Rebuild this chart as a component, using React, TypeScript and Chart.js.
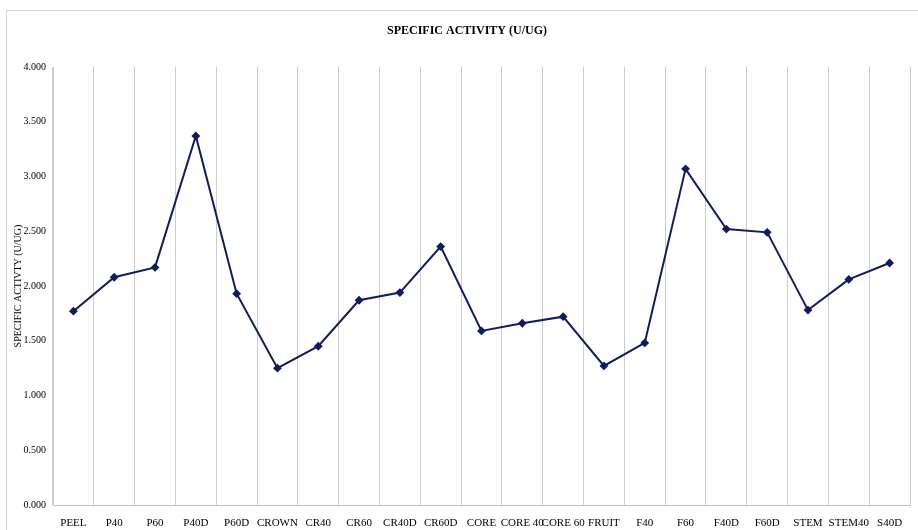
import React, { useEffect, useRef } from "react";
import { Chart, registerables } from "chart.js";

Chart.register(...registerables);

const categories: string[] = [
  "PEEL", "P40", "P60", "P40D", "P60D", "CROWN", "CR40", "CR60", "CR40D", "CR60D",
  "CORE", "CORE 40", "CORE 60", "FRUIT", "F40", "F60", "F40D", "F60D", "STEM", "STEM40", "S40D",
];

const specificActivity: number[] = [
  1.77, 2.08, 2.17, 3.37, 1.93, 1.25, 1.45, 1.87, 1.94, 2.36,
  1.59, 1.66, 1.72, 1.27, 1.48, 3.07, 2.52, 2.49, 1.78, 2.06, 2.21,
];

const yTicks: number[] = [0, 0.5, 1, 1.5, 2, 2.5, 3, 3.5, 4];

const chartTitle = "SPECIFIC ACTIVITY (U/UG)";
const yAxisTitle = "SPECIFIC ACTIVTY (U/UG)";

const SERIF = "'Liberation Serif', 'Times New Roman', serif";

const framePlugin = {
  id: "frame",
  beforeDraw(chart: any) {
    const ctx = chart.ctx;
    ctx.save();
    ctx.fillStyle = "#ffffff";
    ctx.fillRect(0, 0, chart.width, chart.height);
    ctx.strokeStyle = "#d4d4d4";
    ctx.lineWidth = 1;
    ctx.strokeRect(6.5, 10.5, chart.width + 20, chart.height + 20);
    ctx.restore();
  },
  afterDraw(chart: any) {
    const ctx = chart.ctx;
    ctx.save();
    ctx.fillStyle = "#000000";
    ctx.font = `bold 12px ${SERIF}`;
    ctx.textAlign = "center";
    ctx.textBaseline = "middle";
    ctx.fillText(chartTitle, 467, 31);
    ctx.restore();
  },
};

export default function App() {
  const canvasRef = useRef<HTMLCanvasElement | null>(null);

  useEffect(() => {
    if (!canvasRef.current) return;
    const chart = new Chart(canvasRef.current, {
      type: "line",
      data: {
        labels: categories,
        datasets: [
          {
            label: chartTitle,
            data: specificActivity,
            borderColor: "#0f1d5a",
            backgroundColor: "#0f1d5a",
            borderWidth: 2,
            pointStyle: "rectRot",
            pointRadius: 3,
            pointHoverRadius: 3,
            tension: 0,
          },
        ],
      },
      plugins: [framePlugin],
      options: {
        responsive: false,
        animation: false,
        layout: { padding: { left: 0, right: 8, top: 67, bottom: 0 } },
        plugins: {
          legend: { display: false },
          tooltip: { enabled: false },
          title: { display: false },
        },
        scales: {
          x: {
            offset: true,
            grid: {
              display: true,
              offset: true,
              color: "#cccccc",
              drawTicks: false,
            },
            border: { display: true, color: "#c4c4c4" },
            ticks: {
              autoSkip: false,
              maxRotation: 0,
              minRotation: 0,
              padding: 12,
              color: "#000000",
              font: { family: SERIF, size: 11 },
            },
            afterFit: (scale: any) => {
              scale.height = 25;
            },
          },
          y: {
            min: 0,
            max: 4,
            afterBuildTicks: (scale: any) => {
              scale.ticks = yTicks.map((v) => ({ value: v }));
            },
            grid: { display: false, drawTicks: false },
            border: { display: true, color: "#cccccc" },
            ticks: {
              padding: 7,
              color: "#000000",
              font: { family: SERIF, size: 10 },
              callback: (v: any) => Number(v).toFixed(3),
            },
            title: {
              display: true,
              text: yAxisTitle,
              color: "#000000",
              font: { family: SERIF, size: 10 },
              padding: { top: 12, bottom: 0 },
            },
            afterFit: (scale: any) => {
              scale.width = 53;
            },
          },
        },
      },
    });
    return () => chart.destroy();
  }, []);

  return (
    <div style={{ position: "fixed", left: 0, top: 0, width: 918, height: 530, background: "#fff" }}>
      <canvas ref={canvasRef} width={918} height={530} style={{ display: "block" }} />
    </div>
  );
}
